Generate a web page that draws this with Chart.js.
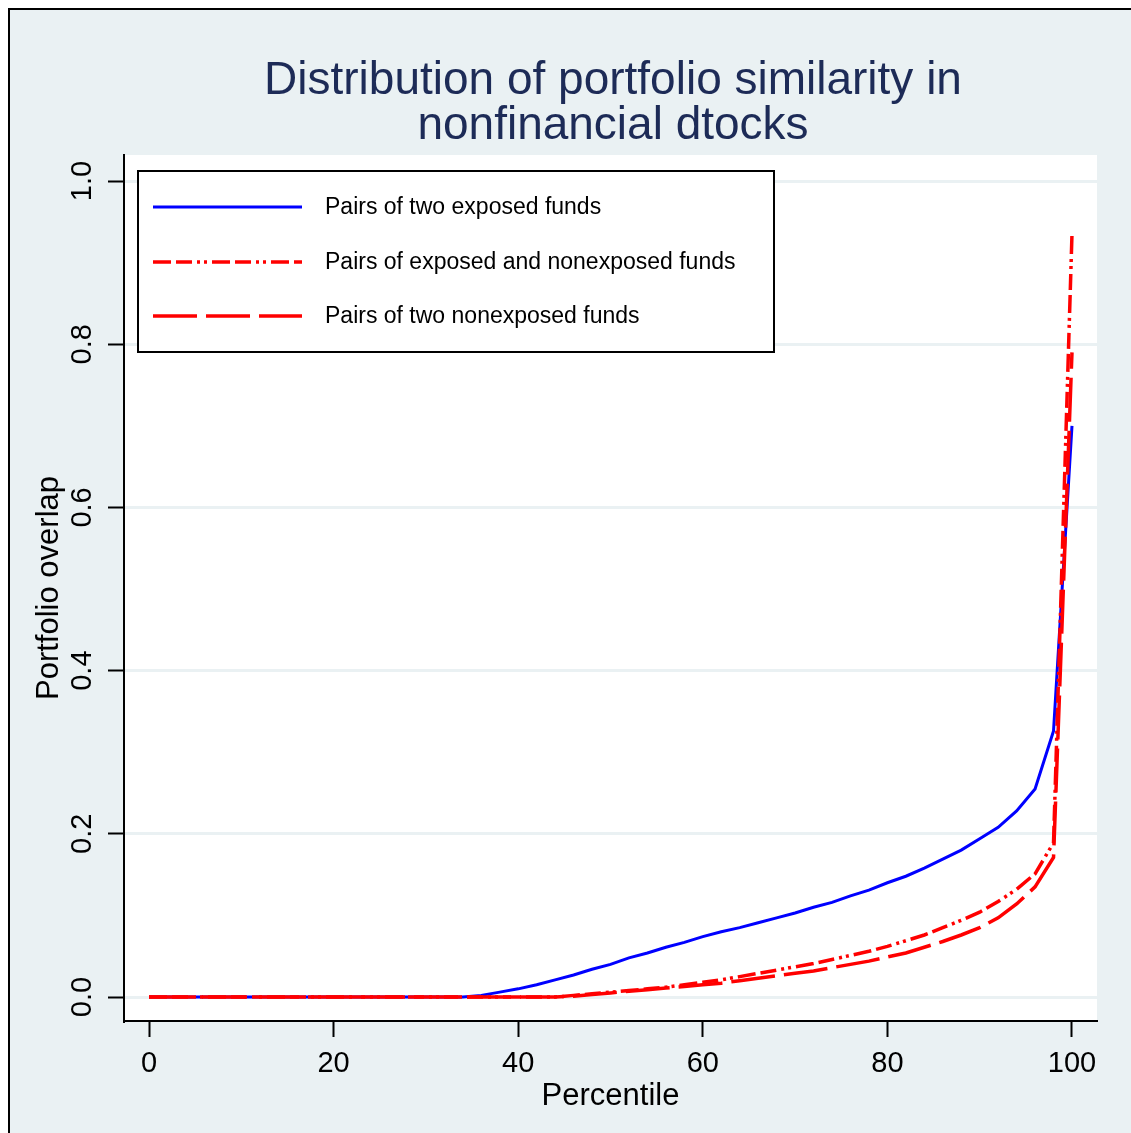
<!DOCTYPE html>
<html>
<head>
<meta charset="utf-8">
<script src="https://cdn.jsdelivr.net/npm/chart.js@4.4.1/dist/chart.umd.min.js"></script>
<style>
  html, body { margin: 0; padding: 0; background: #ffffff; overflow: hidden; }
  #frame {
    position: absolute; left: 8px; top: 8px; width: 1200px; height: 1200px;
    border-left: 2px solid #000; border-top: 2px solid #000;
    background: #eaf1f3;
  }
  #wrap { position: absolute; left: 0; top: 0; width: 1131px; height: 1133px; }
</style>
</head>
<body>
<div id="frame"></div>
<div id="wrap"><canvas id="chart"></canvas></div>
<script>
// percentile grid and the three distributions
var percentiles = [0, 2, 4, 6, 8, 10, 12, 14, 16, 18, 20, 22, 24, 26, 28, 30, 32, 34,
  36, 38, 40, 42, 44, 46, 48, 50, 52, 54, 56, 58, 60, 62, 64, 66, 68, 70, 72, 74,
  76, 78, 80, 82, 84, 86, 88, 90, 92, 94, 96, 98, 100];

var twoExposed = [0, 0, 0, 0, 0, 0, 0, 0, 0, 0, 0, 0, 0, 0, 0, 0, 0, 0,
  0.002, 0.006, 0.010, 0.015, 0.021, 0.027, 0.034, 0.040, 0.048, 0.054, 0.061, 0.067,
  0.074, 0.080, 0.085, 0.091, 0.097, 0.103, 0.110, 0.116, 0.124, 0.131, 0.140, 0.148,
  0.158, 0.169, 0.180, 0.194, 0.208, 0.228, 0.255, 0.326, 0.700];

var mixedPairs = [0, 0, 0, 0, 0, 0, 0, 0, 0, 0, 0, 0, 0, 0, 0, 0, 0, 0, 0, 0, 0, 0, 0,
  0.002, 0.004, 0.006, 0.008, 0.010, 0.012, 0.015, 0.018, 0.021, 0.025, 0.029, 0.033,
  0.037, 0.041, 0.046, 0.051, 0.056, 0.062, 0.069, 0.076, 0.085, 0.094, 0.104, 0.117,
  0.132, 0.151, 0.189, 0.935];

var twoNonexposed = [0, 0, 0, 0, 0, 0, 0, 0, 0, 0, 0, 0, 0, 0, 0, 0, 0, 0, 0, 0, 0, 0, 0,
  0.001, 0.003, 0.005, 0.007, 0.009, 0.011, 0.013, 0.015, 0.017, 0.020, 0.023, 0.026,
  0.029, 0.032, 0.036, 0.040, 0.044, 0.049, 0.054, 0.061, 0.068, 0.076, 0.085, 0.097,
  0.114, 0.135, 0.171, 0.790];

var seriesLabels = [
  'Pairs of two exposed funds',
  'Pairs of exposed and nonexposed funds',
  'Pairs of two nonexposed funds'
];
var xTicks = [0, 20, 40, 60, 80, 100];
var yTicks = [0, 0.2, 0.4, 0.6, 0.8, 1.0];
var titleLines = ['Distribution of portfolio similarity in', 'nonfinancial dtocks'];

var FONT = '"Liberation Sans", Arial, Helvetica, sans-serif';
var gridColor = '#eaf1f3';

function toPoints(ys) {
  return percentiles.map(function(x, i) { return { x: x, y: ys[i] }; });
}

var plotBg = {
  id: 'plotBg',
  beforeDraw: function(chart) {
    var a = chart.chartArea, ctx = chart.ctx;
    ctx.save();
    ctx.fillStyle = '#ffffff';
    ctx.fillRect(a.left, a.top, a.right - a.left, a.bottom - a.top);
    ctx.restore();
  }
};

var headline = {
  id: 'headline',
  afterDraw: function(chart) {
    var ctx = chart.ctx;
    ctx.save();
    ctx.fillStyle = '#1d2b57';
    ctx.font = '46px ' + FONT;
    ctx.textAlign = 'center';
    ctx.textBaseline = 'alphabetic';
    ctx.fillText(titleLines[0], 613, 94);
    ctx.fillText(titleLines[1], 613, 139);
    ctx.restore();
  }
};

var boxLegend = {
  id: 'boxLegend',
  afterDatasetsDraw: function(chart) {
    var ctx = chart.ctx;
    var bx = 138, by = 171, bw = 636, bh = 181;
    ctx.save();
    ctx.fillStyle = '#ffffff';
    ctx.fillRect(bx, by, bw, bh);
    ctx.strokeStyle = '#000000';
    ctx.lineWidth = 2;
    ctx.strokeRect(bx, by, bw, bh);
    var rows = [207, 262, 316];
    chart.data.datasets.forEach(function(ds, i) {
      ctx.beginPath();
      ctx.setLineDash(ds.borderDash || []);
      ctx.strokeStyle = ds.borderColor;
      ctx.lineWidth = ds.borderWidth;
      ctx.moveTo(153, rows[i]);
      ctx.lineTo(302, rows[i]);
      ctx.stroke();
      ctx.setLineDash([]);
      ctx.fillStyle = '#000000';
      ctx.font = '23px ' + FONT;
      ctx.textAlign = 'left';
      ctx.textBaseline = 'middle';
      ctx.fillText(ds.label, 325, rows[i] + 1);
    });
    ctx.restore();
  }
};

new Chart(document.getElementById('chart'), {
  type: 'line',
  data: {
    datasets: [{
      label: seriesLabels[0],
      data: toPoints(twoExposed),
      borderColor: '#0000ff',
      borderWidth: 3,
      order: 3
    }, {
      label: seriesLabels[1],
      data: toPoints(mixedPairs),
      borderColor: '#ff0000',
      borderWidth: 3.5,
      borderDash: [18, 5, 16, 5, 3, 4, 3, 5],
      order: 1
    }, {
      label: seriesLabels[2],
      data: toPoints(twoNonexposed),
      borderColor: '#ff0000',
      borderWidth: 3.5,
      borderDash: [44, 9],
      order: 2
    }]
  },
  options: {
    responsive: true,
    maintainAspectRatio: false,
    animation: false,
    layout: { padding: { top: 155, right: 34, bottom: 0, left: 0 } },
    elements: {
      point: { radius: 0 },
      line: { tension: 0, fill: false, borderCapStyle: 'butt' }
    },
    plugins: {
      legend: { display: false },
      tooltip: { enabled: false },
      title: { display: false }
    },
    scales: {
      x: {
        type: 'linear',
        min: -2.71,
        max: 102.71,
        afterBuildTicks: function(axis) { axis.ticks = xTicks.map(function(v) { return { value: v }; }); },
        afterFit: function(axis) { axis.height = 112; },
        border: { display: true, color: '#000000', width: 2 },
        grid: { drawOnChartArea: false, drawTicks: true, tickLength: 16, tickColor: '#000000', tickWidth: 2 },
        ticks: {
          autoSkip: false, maxRotation: 0, minRotation: 0, padding: 10,
          color: '#000000', font: { family: FONT, size: 29 },
          callback: function(v) { return String(v); }
        },
        title: {
          display: true, text: 'Percentile', color: '#000000',
          font: { family: FONT, size: 31 }, padding: { top: 0, bottom: 18 }
        }
      },
      y: {
        type: 'linear',
        min: -0.0294,
        max: 1.0319,
        afterBuildTicks: function(axis) { axis.ticks = yTicks.map(function(v) { return { value: v }; }); },
        afterFit: function(axis) { axis.width = 124; },
        border: { display: true, color: '#000000', width: 2 },
        grid: { drawOnChartArea: true, color: gridColor, lineWidth: 3, drawTicks: true, tickLength: 16, tickColor: '#000000', tickWidth: 2 },
        ticks: {
          autoSkip: false, minRotation: 90, maxRotation: 90, crossAlign: 'center', padding: 5,
          color: '#000000', font: { family: FONT, size: 29 },
          callback: function(v) { return v.toFixed(1); }
        },
        title: {
          display: true, text: 'Portfolio overlap', color: '#000000',
          font: { family: FONT, size: 31 }, padding: { top: 31, bottom: 0 }
        }
      }
    }
  },
  plugins: [plotBg, headline, boxLegend]
});
</script>
</body>
</html>
